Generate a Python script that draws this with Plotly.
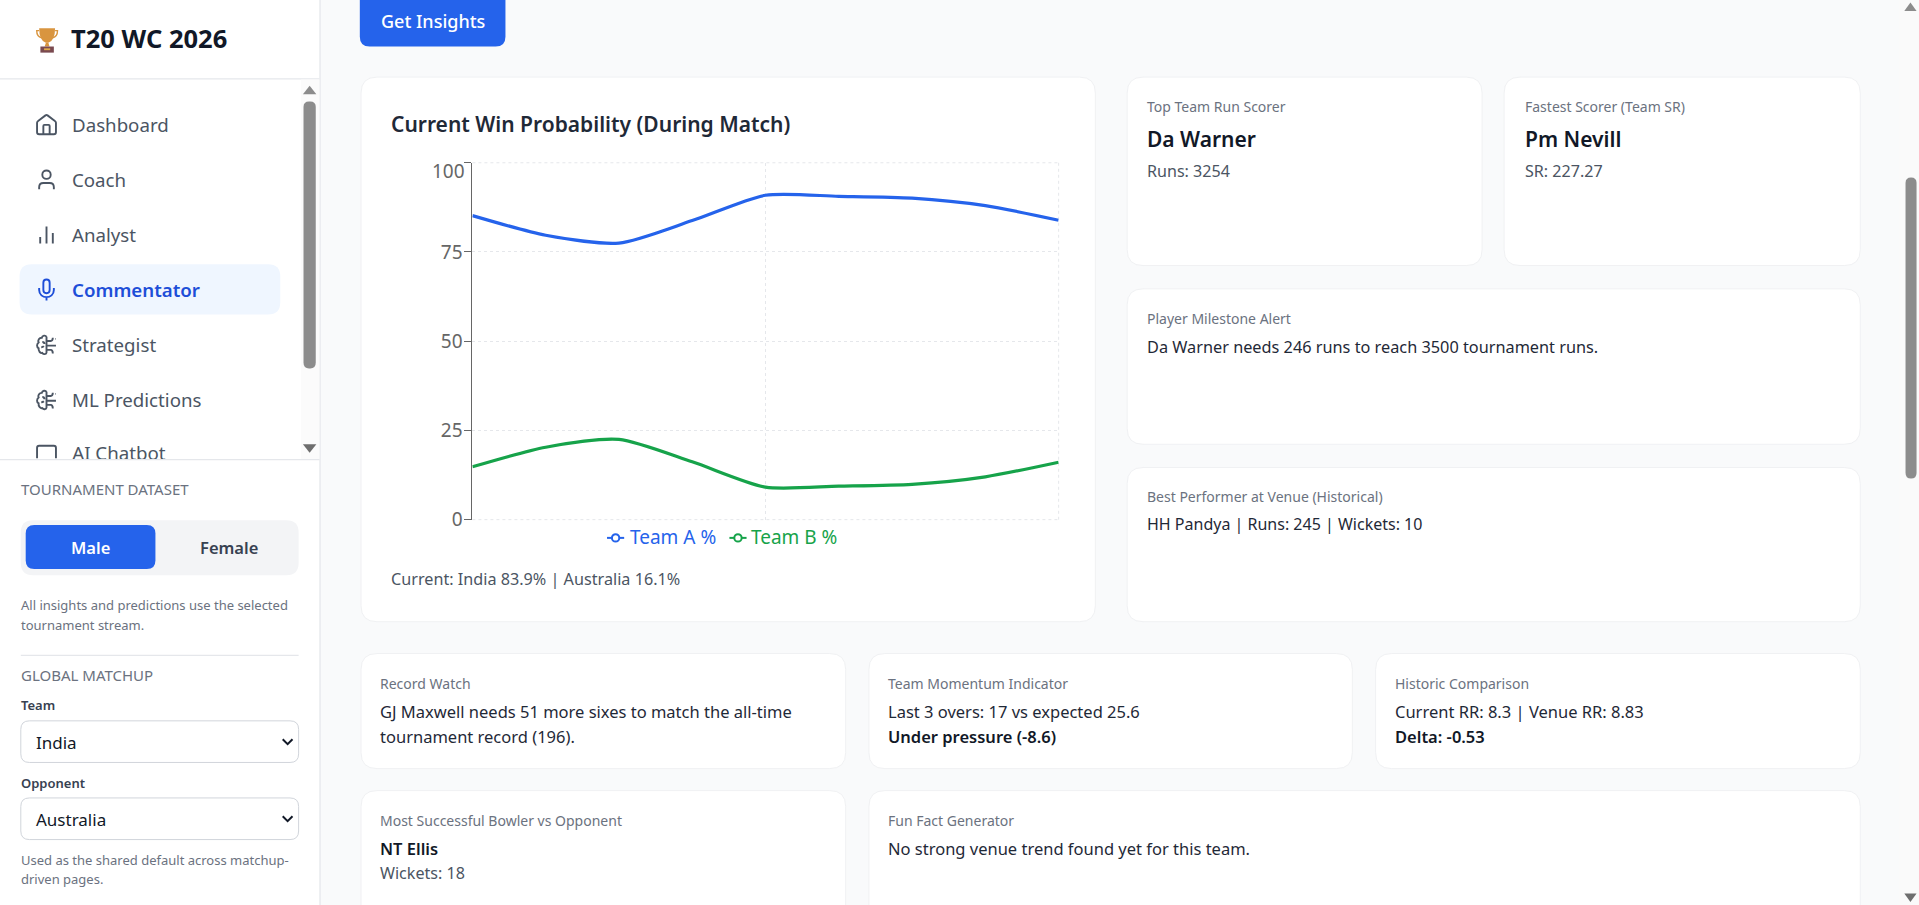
import re
import plotly.graph_objects as go

overs = [0, 0.5, 1, 1.5, 2, 2.5, 3, 3.5, 4]
team_a = [85.2, 79.7, 77.5, 83.8, 90.9, 90.6, 90.1, 88.0, 83.9]
team_b = [14.8, 20.3, 22.5, 16.2, 9.1, 9.4, 9.9, 12.0, 16.1]
grid_overs = [0, 2, 4]
y_ticks = [0, 25, 50, 75, 100]
y_labels = ["0", "25", "50", "75", ""]
nav_items = ["Dashboard", "Coach", "Analyst", "Commentator", "Strategist", "ML Predictions"]

W, H = 1919, 905
K = 1919 / 1568
FONT = "Noto Sans"
BLUE, GREEN = "#2563eb", "#16a34a"
shapes, notes = [], []

def px(x): return x * K / W
def py(y): return 1 - y * K / H

def rrect(x0, y0, x1, y1, r, fill="#ffffff", line="#f0f1f3", lw=1):
    p = (f"M{px(x0+r)},{py(y0)} L{px(x1-r)},{py(y0)} Q{px(x1)},{py(y0)} {px(x1)},{py(y0+r)} "
         f"L{px(x1)},{py(y1-r)} Q{px(x1)},{py(y1)} {px(x1-r)},{py(y1)} L{px(x0+r)},{py(y1)} "
         f"Q{px(x0)},{py(y1)} {px(x0)},{py(y1-r)} L{px(x0)},{py(y0+r)} Q{px(x0)},{py(y0)} {px(x0+r)},{py(y0)} Z")
    shapes.append(dict(type="path", path=p, xref="paper", yref="paper", layer="below", fillcolor=fill,
                       line=dict(color=line if line else fill, width=lw if line else 0)))

def rect(x0, y0, x1, y1, fill):
    shapes.append(dict(type="rect", xref="paper", yref="paper", layer="below", x0=px(x0), x1=px(x1),
                       y0=py(y1), y1=py(y0), fillcolor=fill, line=dict(width=0)))

def poly(path, fill=None, color=None, lw=0, layer="below", dash=None):
    shapes.append(dict(type="path", path=path, xref="paper", yref="paper", layer=layer,
                       fillcolor=fill or "rgba(0,0,0,0)",
                       line=dict(color=color or "rgba(0,0,0,0)", width=lw, dash=dash or "solid")))

def T(x, y, s, size=16, color="#111827", weight=400, anchor="left"):
    notes.append(dict(x=px(x - (1 if anchor == "left" else 0)), y=py(y - 0.6), xref="paper", yref="paper", text=s, showarrow=False,
                      xanchor=anchor, yanchor="middle", borderpad=0,
                      font=dict(family=FONT, size=size, color=color, weight=weight)))

def icon(cx, cy, d, color="#4b5563", lw=1.9, scale=1.05, fill=None):
    out = []
    for tok in re.findall(r"[MLCQZ]|-?[\d.]+,?\s*-?[\d.]*", d):
        if tok in "MLCQZ":
            out.append(tok)
        else:
            a, b = re.split(r"[,\s]+", tok.strip())
            X = (cx * K + (float(a) - 12) * scale) / W
            Y = 1 - (cy * K + (float(b) - 12) * scale) / H
            out.append(f"{X},{Y}")
    poly(" ".join(out), color=color, lw=lw, fill=fill)

rect(0, 0, 261, 739.5, "#ffffff")
rect(261, 0, 262, 739.5, "#e5e7eb")
rect(0, 64, 261, 65, "#e5e7eb")
rect(0, 375, 261, 376, "#e5e7eb")
rect(1552, 0, 1568, 739.5, "#fafafa")

T(58, 32, "T20 WC 2026", 25.5, "#111827", 700)
CUP = "#d9953f"
poly(f"M{px(32)},{py(23)} L{px(45)},{py(23)} Q{px(45)},{py(33)} {px(39.5)},{py(35)} L{px(37.5)},{py(35)} Q{px(32)},{py(33)} {px(32)},{py(23)} Z", fill=CUP)
poly(f"M{px(37.5)},{py(35)} L{px(39.5)},{py(35)} L{px(40.5)},{py(38)} L{px(36.5)},{py(38)} Z", fill=CUP)
poly(f"M{px(32)},{py(25)} L{px(30)},{py(25)} Q{px(30)},{py(30)} {px(34)},{py(31)}", color=CUP, lw=1.4)
poly(f"M{px(45)},{py(25)} L{px(47)},{py(25)} Q{px(47)},{py(30)} {px(43)},{py(31)}", color=CUP, lw=1.4)
rect(33, 38, 44, 43, "#7a4a50")
rect(36, 39.5, 41, 41, "#e0a84a")

rrect(16, 216, 229, 257, 10, fill="#eff6ff", line=None)
nav_y = [102, 147, 192, 237, 282, 327]
for name, y in zip(nav_items, nav_y):
    active = name == "Commentator"
    T(59, y, name, 18.7, "#1d4ed8" if active else "#4b5563", 600 if active else 400)

BRAIN = ("M12 4 C11 2.5 8 2.5 7.5 5 C5 5 3.5 7.5 4.5 9.5 C2.5 11 2.5 14 4.5 15 C4 18 6.5 20 8 19.5 "
         "C9 21 12 21 12 19 L12 4 M12 8 L16 8 C17.5 8 18 7 18 5 M12 12.5 L21 12.5 M12 16.5 L16 16.5 "
         "C17.5 16.5 18 18 18 20 M20.5 6 L21 6 M8 9 C9 9 10 10 10 11 M7 14 C8 14 9 13.5 9.5 13")
icon(38, 102, "M3 10 Q3 9 4 8.3 L11 3 Q12 2.4 13 3 L20 8.3 Q21 9 21 10 L21 19 Q21 21 19 21 L5 21 Q3 21 3 19 Z "
              "M9 21 L9 13 Q9 12 10 12 L14 12 Q15 12 15 13 L15 21")
icon(38, 147, "M16 7 C16 12.3 8 12.3 8 7 C8 1.7 16 1.7 16 7 Z M19 21 L19 19 Q19 15 15 15 L9 15 Q5 15 5 19 L5 21")
icon(38, 192, "M18 20 L18 10 M12 20 L12 4 M6 20 L6 14")
icon(38, 237, "M9 5 C9 1 15 1 15 5 L15 12 C15 16 9 16 9 12 Z M19 10 L19 12 C19 21 5 21 5 12 L5 10 M12 19 L12 22", color="#1d4ed8")
icon(38, 282, BRAIN)
icon(38, 327, BRAIN)
icon(38, 372, "M3 14.9 L3 5 Q3 3 5 3 L19 3 Q21 3 21 5 L21 14.9")

rect(246, 65, 261, 375, "#fbfbfb")
rrect(248, 83, 258, 301, 4.5, fill="#8c8c8c", line=None)
poly(f"M{px(247.5)},{py(77)} L{px(253)},{py(70)} L{px(258.5)},{py(77)} Z", fill="#8c8c8c")
poly(f"M{px(247.5)},{py(363)} L{px(253)},{py(370)} L{px(258.5)},{py(363)} Z", fill="#6e6e6e")

T(17, 400.5, "TOURNAMENT DATASET", 15, "#6b7280")
rrect(17, 425, 244, 470, 10, fill="#f3f4f6", line=None)
rrect(21, 429, 127, 465, 7, fill=BLUE, line=None)
T(74, 448, "Male", 16.5, "#ffffff", 600, "center")
T(187, 448, "Female", 16.5, "#374151", 600, "center")
T(17, 495, "All insights and predictions use the selected", 13, "#6b7280")
T(17, 511, "tournament stream.", 13, "#6b7280")
rect(17, 535, 244, 536, "#e5e7eb")
T(17, 552, "GLOBAL MATCHUP", 15, "#6b7280")
T(17, 577, "Team", 13, "#374151", 600)
rrect(17, 589, 244, 623, 7, fill="#ffffff", line="#d1d5db")
T(30, 607, "India", 17, "#111827")
T(17, 640, "Opponent", 13, "#374151", 600)
rrect(17, 652, 244, 686, 7, fill="#ffffff", line="#d1d5db")
T(30, 670, "Australia", 17, "#111827")
for yc in (606, 669):
    poly(f"M{px(231)},{py(yc-2)} L{px(235)},{py(yc+2)} L{px(239)},{py(yc-2)}", color="#111827", lw=2)
T(17, 703, "Used as the shared default across matchup-", 13, "#6b7280")
T(17, 719, "driven pages.", 13, "#6b7280")

rrect(1557, 145, 1566, 391, 4.5, fill="#8c8c8c", line=None)
poly(f"M{px(1556)},{py(9)} L{px(1561)},{py(2)} L{px(1566)},{py(9)} Z", fill="#8c8c8c")
poly(f"M{px(1556)},{py(730)} L{px(1561)},{py(737)} L{px(1566)},{py(730)} Z", fill="#6e6e6e")

rrect(294, -10, 413, 38, 8, fill=BLUE, line=None)
T(353.5, 18, "Get Insights", 18, "#ffffff", 500, "center")

for c in [(295, 63, 895, 508), (921, 63, 1211, 217), (1229, 63, 1520, 217), (921, 236, 1520, 363),
          (921, 382, 1520, 508), (295, 534, 691, 628), (710, 534, 1105, 628), (1124, 534, 1520, 628),
          (295, 646, 691, 760), (710, 646, 1520, 760)]:
    rrect(*c, 13)

T(320, 102, "Current Win Probability (During Match)", 21, "#1f2937", 600)
T(320, 474, "Current: India 83.9% | Australia 16.1%", 16.2, "#4b5563")

BODY, SMALLER = 16.5, 16.1
G, D = "#6b7280", "#1f2937"
T(937, 88, "Top Team Run Scorer", 14, G)
T(937, 114, "Da Warner", 21, "#111827", 600)
T(937, 140, "Runs: 3254", SMALLER, "#4b5563")
T(1246, 88, "Fastest Scorer (Team SR)", 14, G)
T(1246, 114, "Pm Nevill", 21, "#111827", 600)
T(1246, 140, "SR: 227.27", SMALLER, "#4b5563")
T(937, 261, "Player Milestone Alert", 14, G)
T(937, 284, "Da Warner needs 246 runs to reach 3500 tournament runs.", 16.3, D)
T(937, 406, "Best Performer at Venue (Historical)", 14, G)
T(937, 429, "HH Pandya | Runs: 245 | Wickets: 10", 16, D)
T(311, 559, "Record Watch", 14, G)
T(311, 582, "GJ Maxwell needs 51 more sixes to match the all-time", BODY, D)
T(311, 602, "tournament record (196).", BODY, D)
T(726, 559, "Team Momentum Indicator", 14, G)
T(726, 582, "Last 3 overs: 17 vs expected 25.6", BODY, D)
T(726, 602, "Under pressure (-8.6)", BODY, "#111827", 600)
T(1140, 559, "Historic Comparison", 14, G)
T(1140, 582, "Current RR: 8.3 | Venue RR: 8.83", BODY, D)
T(1140, 602, "Delta: -0.53", BODY, "#111827", 600)
T(311, 671, "Most Successful Bowler vs Opponent", 14, G)
T(311, 694, "NT Ellis", BODY, "#111827", 600)
T(311, 714, "Wickets: 18", SMALLER, "#4b5563")
T(726, 671, "Fun Fact Generator", 14, G)
T(726, 694, "No strong venue trend found yet for this team.", BODY, D)

for x0, col, label, tx in [(496, BLUE, "Team A %", 515), (596, GREEN, "Team B %", 614)]:
    poly(f"M{px(x0)},{py(439.5)} L{px(x0+14)},{py(439.5)}", color=col, lw=2)
    shapes.append(dict(type="circle", xref="paper", yref="paper", layer="above", x0=px(x0+4), x1=px(x0+10),
                       y0=py(442.5), y1=py(436.5), fillcolor="#ffffff", line=dict(color=col, width=2)))
    T(tx, 439, label, 19, col)

T(380.5, 140, "100", 19, "#666666", 400, "right")

GRIDC = "#e5e7eb"
poly(f"M{px(386)},{py(133)} L{px(865)},{py(133)}", color=GRIDC, lw=1, dash="3px,3px")
poly(f"M{px(386)},{py(424.6)} L{px(865)},{py(424.6)}", color=GRIDC, lw=1, dash="3px,3px")
poly(f"M{px(865)},{py(133)} L{px(865)},{py(424.6)}", color=GRIDC, lw=1, dash="3px,3px")

fig = go.Figure()
fig.add_trace(go.Scatter(x=overs, y=team_a, name="Team A %", mode="lines",
                         line=dict(color=BLUE, width=3.2, shape="spline", smoothing=0.7)))
fig.add_trace(go.Scatter(x=overs, y=team_b, name="Team B %", mode="lines",
                         line=dict(color=GREEN, width=3.2, shape="spline", smoothing=0.7)))
fig.add_trace(go.Scatter(x=[59], y=[372], mode="text", text=["AI Chatbot"], textposition="middle right",
                         textfont=dict(family=FONT, size=18.7, color="#4b5563"), cliponaxis=True,
                         xaxis="x2", yaxis="y2", hoverinfo="skip", showlegend=False))

grid = dict(showgrid=True, gridcolor=GRIDC, griddash="3px,3px", gridwidth=1, zeroline=False)
fig.update_layout(
    width=W, height=H, autosize=False, margin=dict(l=0, r=0, t=0, b=0, pad=0),
    paper_bgcolor="#f9fafb", plot_bgcolor="rgba(0,0,0,0)", showlegend=False,
    font=dict(family=FONT), shapes=shapes, annotations=notes,
    xaxis=dict(domain=[px(386), px(865)], range=[0, 4], tickmode="array", tickvals=grid_overs,
               ticktext=["", "", ""], ticks="", showline=False, automargin=False, **grid),
    yaxis=dict(domain=[py(424.6), py(133)], range=[0, 100], tickmode="array", tickvals=y_ticks,
               ticktext=y_labels, ticks="outside", ticklen=7, tickcolor="#666666", tickwidth=1,
               showline=True, linecolor="#666666", linewidth=1, automargin=False, ticklabelstandoff=-2,
               tickfont=dict(family=FONT, size=19, color="#666666"), **grid),
    xaxis2=dict(domain=[0, px(261)], range=[0, 261], visible=False, anchor="y2", automargin=False),
    yaxis2=dict(domain=[py(375), py(65)], range=[375, 65], visible=False, anchor="x2", automargin=False),
)
fig.write_html("out.html", config={"displayModeBar": False},
               post_script="document.body.style.margin='0';document.documentElement.style.overflow='hidden';")
